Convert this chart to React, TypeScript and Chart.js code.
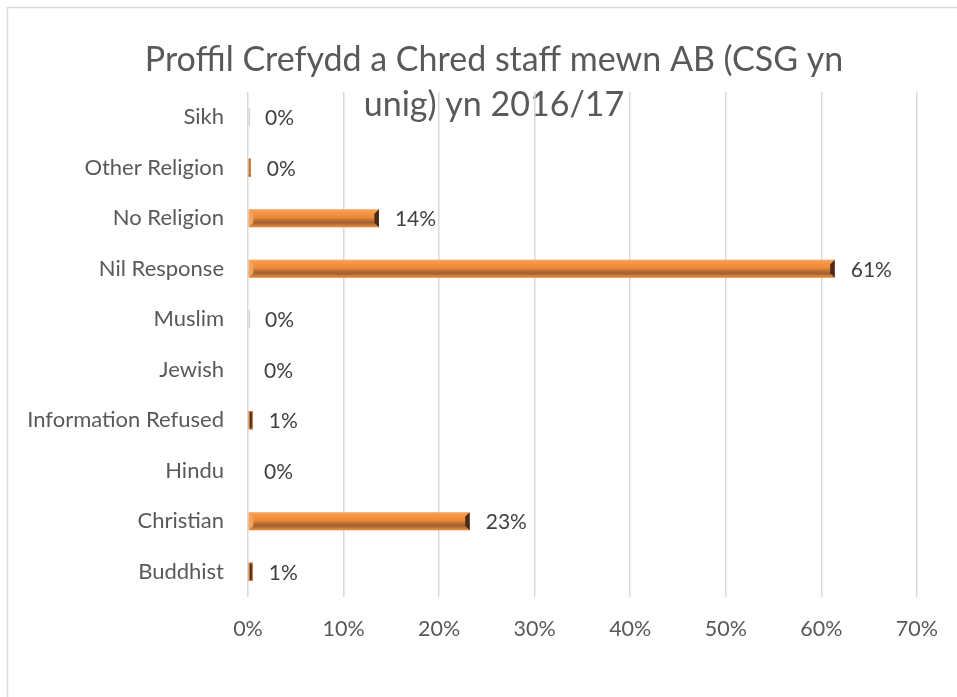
import React, { useEffect, useRef } from "react";
import { Chart, registerables } from "chart.js";

Chart.register(...registerables);

const TITLE_LINES = ["Proffil Crefydd a Chred staff mewn AB (CSG yn", "unig) yn 2016/17"];
const CATEGORIES = [
  "Sikh",
  "Other Religion",
  "No Religion",
  "Nil Response",
  "Muslim",
  "Jewish",
  "Information Refused",
  "Hindu",
  "Christian",
  "Buddhist",
];
const VALUES = [0.1, 0.3, 13.7, 61.4, 0.1, 0, 0.5, 0, 23.2, 0.5];
const X_MIN = 0;
const X_MAX = 70;
const X_STEP = 10;

const FONT = "Lato, 'Open Sans', sans-serif";
const TEXT = "#595959";

const framePlugin = {
  id: "frame",
  beforeDraw(chart: any) {
    const ctx = chart.ctx;
    ctx.save();
    ctx.fillStyle = "#ffffff";
    ctx.fillRect(0, 0, chart.width, chart.height);
    ctx.strokeStyle = "#D9D9D9";
    ctx.lineWidth = 1.5;
    ctx.strokeRect(7.5, 7.5, chart.width + 20, chart.height + 20);
    ctx.fillStyle = TEXT;
    ctx.font = `34px ${FONT}`;
    ctx.textAlign = "center";
    ctx.textBaseline = "middle";
    const cx = 494;
    TITLE_LINES.forEach((line, i) => ctx.fillText(line, cx, 60 + i * 45));
    ctx.restore();
  },
};

const bevelPlugin = {
  id: "bevel",
  afterDatasetsDraw(chart: any) {
    const ctx = chart.ctx;
    const meta = chart.getDatasetMeta(0);
    ctx.save();
    meta.data.forEach((bar: any, i: number) => {
      const v = VALUES[i];
      const { x, y, base, height } = bar.getProps(["x", "y", "base", "height"], true);
      const top = y - height / 2;
      const bottom = y + height / 2;
      const w = x - base;
      if (w > 0.2) {
        if (w < 2) {
          ctx.fillStyle = "#C8C8C8";
          ctx.fillRect(base, top, Math.max(1, w), height);
        } else if (w < 8) {
          ctx.fillStyle = "#4A2A14";
          ctx.fillRect(base, top, w, height);
          ctx.strokeStyle = "#ED8A3C";
          ctx.lineWidth = 1;
          ctx.strokeRect(base + 0.5, top + 0.5, w - 1, height - 1);
        } else {
          const g = ctx.createLinearGradient(0, top, 0, bottom);
          g.addColorStop(0, "#F7A968");
          g.addColorStop(0.15, "#F39848");
          g.addColorStop(0.45, "#EE8A38");
          g.addColorStop(0.58, "#C67534");
          g.addColorStop(0.75, "#9E5F30");
          g.addColorStop(0.9, "#D27F3A");
          g.addColorStop(1, "#EE8E44");
          ctx.fillStyle = g;
          ctx.fillRect(base, top, w, height);
          const b = 4.5;
          ctx.fillStyle = "#F5A460";
          ctx.beginPath();
          ctx.moveTo(base, top);
          ctx.lineTo(base + b, top + b);
          ctx.lineTo(base + b, bottom - b);
          ctx.lineTo(base, bottom);
          ctx.closePath();
          ctx.fill();
          ctx.fillStyle = "#4A2A14";
          ctx.beginPath();
          ctx.moveTo(x, top);
          ctx.lineTo(x - b, top + b);
          ctx.lineTo(x - b, bottom - b);
          ctx.lineTo(x, bottom);
          ctx.closePath();
          ctx.fill();
        }
      }
      ctx.fillStyle = "#404040";
      ctx.font = `21px ${FONT}`;
      ctx.textAlign = "left";
      ctx.textBaseline = "middle";
      ctx.fillText(`${Math.round(v)}%`, x + 16, y + 1);
    });
    ctx.restore();
  },
};

export default function App() {
  const ref = useRef<HTMLCanvasElement | null>(null);
  useEffect(() => {
    if (!ref.current) return;
    const chart = new Chart(ref.current, {
      type: "bar",
      data: {
        labels: CATEGORIES,
        datasets: [
          {
            data: VALUES,
            backgroundColor: "rgba(0,0,0,0)",
            borderWidth: 0,
            categoryPercentage: 1,
            barPercentage: 0.36,
          },
        ],
      },
      options: {
        indexAxis: "y",
        animation: false,
        responsive: false,
        layout: { padding: { left: 8, top: 92, right: 40, bottom: 0 } },
        plugins: {
          legend: { display: false },
          title: { display: false },
          tooltip: { enabled: false },
        },
        scales: {
          x: {
            min: X_MIN,
            max: X_MAX,
            ticks: {
              stepSize: X_STEP,
              padding: 19,
              color: TEXT,
              font: { family: FONT, size: 21.5 },
              callback: (v: any) => `${v}%`,
            },
            grid: { color: "#D9D9D9", lineWidth: 1.5, drawTicks: false },
            border: { display: false },
            afterFit: (s: any) => {
              s.height = 100;
            },
          },
          y: {
            ticks: {
              padding: 24,
              color: TEXT,
              font: { family: FONT, size: 22 },
            },
            grid: { display: false, drawTicks: false },
            border: { display: false },
            afterFit: (s: any) => {
              s.width = 240;
            },
          },
        },
      },
      plugins: [framePlugin, bevelPlugin],
    });
    return () => chart.destroy();
  }, []);
  return (
    <div style={{ position: "absolute", left: 0, top: 0, width: 957, height: 697 }}>
      <canvas ref={ref} width={957} height={697} style={{ display: "block" }} />
    </div>
  );
}
